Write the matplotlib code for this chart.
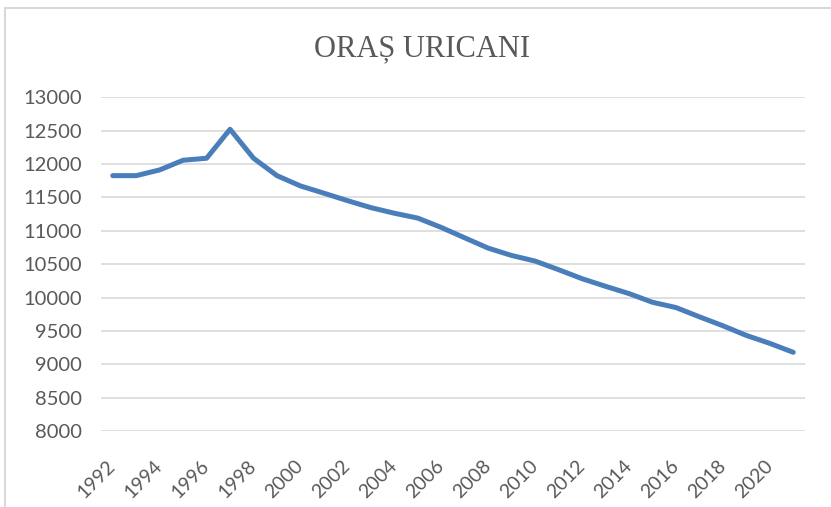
import matplotlib
matplotlib.use("Agg")
import matplotlib.pyplot as plt
from matplotlib.patches import Rectangle
from matplotlib.transforms import ScaledTranslation

years = list(range(1992, 2022))
population = [11826, 11826, 11912, 12057, 12087, 12521, 12087, 11826, 11672, 11563,
              11452, 11347, 11263, 11190, 11050, 10894, 10740, 10630, 10546, 10417,
              10282, 10168, 10059, 9929, 9850, 9711, 9577, 9432, 9313, 9179]
title = "ORAȘ URICANI"
yticks = list(range(8000, 13001, 500))
xtick_labels = [str(y) for y in range(1992, 2021, 2)]

W, H = 831, 507
fig = plt.figure(figsize=(W / 100, H / 100), dpi=100)
fig.patch.set_facecolor("white")

# outer chart frame (cropped at right and bottom)
fig.patches.append(Rectangle((5 / W, -0.05), 1.1, 1 - 8 / H + 0.05,
                             transform=fig.transFigure, fill=False,
                             edgecolor="#D9D9D9", linewidth=1.5))

ax = fig.add_axes([101 / W, 1 - 431 / H, (805 - 101) / W, (431 - 97.3) / H])
x = list(range(len(years)))
ax.plot(x, population, color="#4A7EBB", linewidth=3.6, solid_joinstyle="round",
        solid_capstyle="round", zorder=3)

ax.set_xlim(-0.5, len(years) - 0.5)
ax.set_ylim(8000, 13000)
ax.set_yticks(yticks)
ax.set_yticklabels([str(v) for v in yticks], fontfamily="Lato", fontsize=14.5,
                   color="#595959")
ax.set_xticks([years.index(int(l)) for l in xtick_labels])
ax.set_xticklabels(xtick_labels, rotation=45, ha="right", rotation_mode="anchor",
                   fontfamily="Lato", fontsize=14, color="#595959")
ax.tick_params(axis="both", length=0)
ax.tick_params(axis="y", pad=14)
ax.tick_params(axis="x", pad=15)
offset = ScaledTranslation(-6 / 100, -5 / 100, fig.dpi_scale_trans)
for lbl in ax.get_xticklabels():
    lbl.set_transform(lbl.get_transform() + offset)
ax.grid(axis="y", color="#D9D9D9", linewidth=1.2)
ax.set_axisbelow(True)
for s in ax.spines.values():
    s.set_visible(False)

fig.text(422 / W, 1 - 49 / H, title, ha="center", va="center",
         fontfamily="Liberation Serif", fontsize=22, color="#595959")

fig.savefig("out.png", dpi=100, facecolor="white")
